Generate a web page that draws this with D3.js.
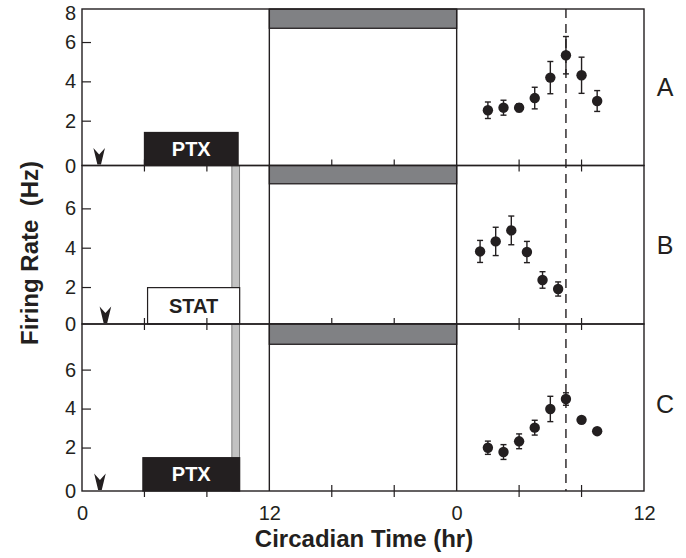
<!DOCTYPE html>
<html>
<head>
<meta charset="utf-8">
<script src="https://cdn.jsdelivr.net/npm/d3@7"></script>
<style>
body { margin: 0; background: #fff; }
svg text { font-family: "Liberation Sans", Arial, sans-serif; fill: #231f20; }
</style>
</head>
<body>
<div id="chart"></div>
<script>
// hours run 0-36 on one axis, 24 is CT 0 of the next day
const panelNames = ["A", "B", "C"];
const hoursA = [26, 27, 28, 29, 30, 31, 32, 33];
const rateA = [2.53, 2.66, 2.66, 3.15, 4.19, 5.33, 4.31, 3.0];
const semA = [0.42, 0.38, 0.2, 0.55, 0.82, 0.95, 0.92, 0.53];
const hoursB = [25.5, 26.5, 27.5, 28.5, 29.5, 30.5];
const rateB = [3.81, 4.32, 4.88, 3.78, 2.36, 1.9];
const semB = [0.56, 0.72, 0.73, 0.54, 0.42, 0.36];
const hoursC = [26, 27, 28, 29, 30, 31, 32, 33];
const rateC = [1.99, 1.77, 2.32, 3.02, 3.98, 4.49, 3.42, 2.84];
const semC = [0.34, 0.38, 0.38, 0.38, 0.65, 0.32, 0, 0];

const treatLabels = ["PTX", "STAT", "PTX"];
const treatStart = [4, 4.2, 3.9];
const treatEnd = [10, 10.1, 10.1];
const treatTop = [1.4, 1.97, 1.48];
const arrowHours = [1.1, 1.5, 1.15];
const nightStart = 12, nightEnd = 24;
const nightBottom = [6.7, 7.25, 7.3];
const washStart = 9.6, washEnd = 10.1;
const peakHour = 31;
const xLabelHours = [0, 12, 24, 36];
const xTickLabels = ["0", "12", "0", "12"];
const xMinorTicks = [4, 8, 16, 20, 28, 32];
const yTicks = [2, 4, 6];
const yDomains = [[-0.28, 7.68], [0.12, 8.18], [-0.23, 8.34]];

const series = [
    {hours: hoursA, rate: rateA, sem: semA},
    {hours: hoursB, rate: rateB, sem: semB},
    {hours: hoursC, rate: rateC, sem: semC}
];

const width = 686, height = 558;
const panelTops = [9, 165.5, 324];
const panelBottoms = [165.5, 324, 491];

const svg = d3.select("#chart").append("svg")
    .attr("width", width)
    .attr("height", height);

const xScale = d3.scaleLinear().domain([0, 36]).range([82, 644]);
const yScales = yDomains.map((dom, i) => d3.scaleLinear().domain(dom).range([panelBottoms[i], panelTops[i]]));

const lineColor = "#231f20";

// panel frames
panelNames.forEach((name, i) => {
    svg.append("rect")
        .attr("x", xScale(0)).attr("y", panelTops[i])
        .attr("width", xScale(36) - xScale(0))
        .attr("height", panelBottoms[i] - panelTops[i])
        .attr("fill", "#fff");
});

// light grey wash bar spanning B and C
svg.append("rect")
    .attr("x", xScale(washStart))
    .attr("y", yScales[1](yDomains[1][1]))
    .attr("width", xScale(washEnd) - xScale(washStart))
    .attr("height", yScales[2](yDomains[2][0]) - yScales[1](yDomains[1][1]))
    .attr("fill", "#c2c2c2")
    .attr("stroke", "#555")
    .attr("stroke-width", 0.7);

panelNames.forEach((name, i) => {
    const y = yScales[i];
    const g = svg.append("g").attr("class", "panel" + name);

    // treatment box
    const dark = treatLabels[i] === "PTX";
    g.append("rect")
        .attr("x", xScale(treatStart[i]))
        .attr("y", y(treatTop[i]))
        .attr("width", xScale(treatEnd[i]) - xScale(treatStart[i]))
        .attr("height", y(yDomains[i][0]) - y(treatTop[i]))
        .attr("fill", dark ? "#231f20" : "#fff")
        .attr("stroke", lineColor)
        .attr("stroke-width", 1.2);
    g.append("text")
        .attr("x", xScale((treatStart[i] + treatEnd[i]) / 2))
        .attr("y", (y(treatTop[i]) + y(yDomains[i][0])) / 2 + 7)
        .attr("text-anchor", "middle")
        .style("font-size", "20px")
        .style("font-weight", "bold")
        .style("fill", dark ? "#fff" : lineColor)
        .text(treatLabels[i]);

    // night bar
    g.append("rect")
        .attr("x", xScale(nightStart))
        .attr("y", y(yDomains[i][1]))
        .attr("width", xScale(nightEnd) - xScale(nightStart))
        .attr("height", y(nightBottom[i]) - y(yDomains[i][1]))
        .attr("fill", "#808184")
        .attr("stroke", lineColor)
        .attr("stroke-width", 1.3);

    // arrowhead marker
    const ax = xScale(arrowHours[i]), ay = y(yDomains[i][0]) - 1;
    g.append("path")
        .attr("d", `M${ax - 5.8},${ay - 16.5} L${ax},${ay - 10} L${ax + 5.8},${ay - 16.5} L${ax + 1.8},${ay} L${ax - 1.8},${ay} Z`)
        .attr("fill", lineColor);

    // frame
    g.append("rect")
        .attr("x", xScale(0)).attr("y", panelTops[i])
        .attr("width", xScale(36) - xScale(0))
        .attr("height", panelBottoms[i] - panelTops[i])
        .attr("fill", "none")
        .attr("stroke", lineColor)
        .attr("stroke-width", 1.4);
    [12, 24].forEach(h => {
        g.append("line")
            .attr("x1", xScale(h)).attr("x2", xScale(h))
            .attr("y1", panelTops[i]).attr("y2", panelBottoms[i])
            .attr("stroke", lineColor)
            .attr("stroke-width", 1.4);
    });

    // minor hour ticks crossing the bottom line
    g.selectAll(".minorTick")
        .data(xMinorTicks)
        .join("line")
        .attr("class", "minorTick")
        .attr("x1", d => xScale(d)).attr("x2", d => xScale(d))
        .attr("y1", panelBottoms[i] - 6).attr("y2", panelBottoms[i] + 6)
        .attr("stroke", lineColor)
        .attr("stroke-width", 1.2);

    // y axis
    const yAxisG = g.append("g")
        .attr("transform", "translate(" + xScale(0) + ",0)")
        .call(d3.axisLeft(y).tickValues(yTicks).tickSizeInner(-9).tickSizeOuter(0).tickPadding(6));
    yAxisG.select(".domain").remove();
    yAxisG.selectAll("line").attr("stroke", lineColor).attr("stroke-width", 1.2);
    yAxisG.selectAll("text")
        .style("font-size", "20px")
        .attr("fill", lineColor)
        .style("font-family", "'Liberation Sans', Arial, sans-serif");

    g.append("text")
        .attr("x", 76).attr("y", panelBottoms[i] + 7)
        .attr("text-anchor", "end")
        .style("font-size", "20px")
        .text("0");
    if (i === 0) {
        g.append("text")
            .attr("x", 76).attr("y", panelTops[i] + 11)
            .attr("text-anchor", "end")
            .style("font-size", "20px")
            .text("8");
    }

    // panel letter
    g.append("text")
        .attr("x", 665)
        .attr("y", (panelTops[i] + panelBottoms[i]) / 2 + 9 + (i === 2 ? -4 : 0))
        .attr("text-anchor", "middle")
        .style("font-size", "25px")
        .text(name);
});

// dashed peak line through all panels
svg.append("line")
    .attr("x1", xScale(peakHour)).attr("x2", xScale(peakHour))
    .attr("y1", panelTops[0]).attr("y2", panelBottoms[2])
    .attr("stroke", lineColor)
    .attr("stroke-width", 1.4)
    .attr("stroke-dasharray", "9,6");

// data points with error bars
series.forEach((s, i) => {
    const y = yScales[i];
    const pts = s.hours.map((h, k) => ({h: h, v: s.rate[k], e: s.sem[k]}));
    const g = svg.append("g").attr("class", "markersG");
    const bars = pts.filter(p => p.e > 0);
    g.selectAll(".errLine").data(bars).join("line")
        .attr("class", "errLine")
        .attr("x1", p => xScale(p.h)).attr("x2", p => xScale(p.h))
        .attr("y1", p => y(p.v - p.e)).attr("y2", p => y(p.v + p.e))
        .attr("stroke", lineColor).attr("stroke-width", 1.4);
    ["lo", "hi"].forEach(end => {
        g.selectAll(".cap" + end).data(bars).join("line")
            .attr("class", "cap" + end)
            .attr("x1", p => xScale(p.h) - 3).attr("x2", p => xScale(p.h) + 3)
            .attr("y1", p => y(end === "lo" ? p.v - p.e : p.v + p.e))
            .attr("y2", p => y(end === "lo" ? p.v - p.e : p.v + p.e))
            .attr("stroke", lineColor).attr("stroke-width", 1.4);
    });
    g.selectAll(".markerCircle").data(pts).join("circle")
        .attr("class", "markerCircle")
        .attr("cx", p => xScale(p.h))
        .attr("cy", p => y(p.v))
        .attr("r", 5.2)
        .attr("fill", lineColor);
});

// x axis labels
const xAxisG = svg.append("g")
    .attr("transform", "translate(0," + panelBottoms[2] + ")")
    .call(d3.axisBottom(xScale).tickValues(xLabelHours).tickSize(0).tickPadding(15)
        .tickFormat((d, k) => xTickLabels[k]));
xAxisG.select(".domain").remove();
xAxisG.selectAll("text")
    .style("font-size", "20px")
    .attr("fill", lineColor)
    .style("font-family", "'Liberation Sans', Arial, sans-serif");

svg.append("text")
    .attr("x", 364).attr("y", 547)
    .attr("text-anchor", "middle")
    .style("font-size", "24px")
    .style("font-weight", "bold")
    .text("Circadian Time (hr)");

svg.append("text")
    .attr("transform", "translate(38,253) rotate(-90)")
    .attr("text-anchor", "middle")
    .style("font-size", "24px")
    .style("font-weight", "bold")
    .style("white-space", "pre")
    .text("Firing Rate  (Hz)");
</script>
</body>
</html>
